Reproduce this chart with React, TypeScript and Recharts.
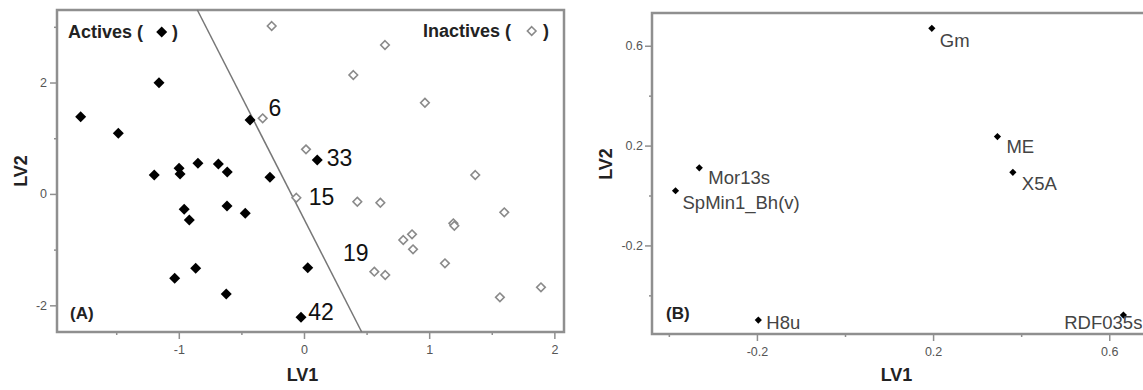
import React from 'react';
import { ScatterChart, Scatter, XAxis, YAxis, ReferenceLine, ReferenceArea } from 'recharts';

const FONT = "Arial, 'Liberation Sans', sans-serif";

// ---------- Panel (A): PLS scores ----------
const activeLV1 = [-1.788, -1.487, -1.162, -0.435, -1.2, -1.002, -0.994, -0.851, -0.688, -0.617, -0.276, -0.961, -0.92, -0.619, -0.473, -0.869, -1.037, -0.625, 0.026, -0.028, 0.102];
const activeLV2 = [1.395, 1.097, 2.006, 1.336, 0.348, 0.469, 0.366, 0.558, 0.546, 0.402, 0.307, -0.268, -0.46, -0.208, -0.34, -1.327, -1.507, -1.788, -1.316, -2.207, 0.618];
const inactiveLV1 = [-0.262, -0.334, -0.065, 0.643, 0.39, 0.962, 0.012, 1.364, 0.422, 0.606, 1.596, 1.189, 1.197, 0.859, 0.789, 0.867, 1.122, 0.558, 0.645, 1.889, 1.561];
const inactiveLV2 = [3.023, 1.366, -0.06, 2.682, 2.144, 1.646, 0.809, 0.348, -0.131, -0.149, -0.322, -0.519, -0.562, -0.717, -0.819, -0.986, -1.237, -1.387, -1.447, -1.668, -1.848];
const compoundLabels = ['6', '33', '15', '19', '42'];
const compoundLabelLV1 = [-0.236, 0.28, 0.136, 0.41, 0.132];
const compoundLabelLV2 = [1.551, 0.653, -0.041, -1.047, -2.106];
const boundaryLV1 = [-0.856, 0.457];
const boundaryLV2 = [3.311, -2.47];
const aXDomain = [-1.977, 2.073];
const aYDomain = [-2.47, 3.311];
const aXTicks = [-1.5, -1, -0.5, 0, 0.5, 1, 1.5, 2];
const aXLabeled = [-1, 0, 1, 2];
const aYTicks = [-2, -1, 0, 1, 2, 3];
const aYLabeled = [-2, 0, 2];

// ---------- Panel (B): loadings ----------
const descriptors = ['Gm', 'ME', 'X5A', 'Mor13s', 'SpMin1_Bh(v)', 'H8u', 'RDF035s'];
const loadingLV1 = [0.196, 0.345, 0.38, -0.332, -0.386, -0.198, 0.631];
const loadingLV2 = [0.672, 0.238, 0.095, 0.113, 0.021, -0.497, -0.477];
const bXDomain = [-0.4394, 0.6846];
const bYDomain = [-0.5529, 0.7332];
const bTicks = [-0.4, -0.2, 0, 0.2, 0.4, 0.6];
const bLabeled = [-0.2, 0.2, 0.6];

// label placement (style, not data)
const LABEL_OFFSETS: Record<string, { dx: number; dy: number; anchor: string }> = {
  Gm: { dx: 8, dy: 12, anchor: 'start' },
  ME: { dx: 9, dy: 10, anchor: 'start' },
  X5A: { dx: 9, dy: 11, anchor: 'start' },
  Mor13s: { dx: 9, dy: 10, anchor: 'start' },
  'SpMin1_Bh(v)': { dx: 7, dy: 12, anchor: 'start' },
  H8u: { dx: 8, dy: 2, anchor: 'start' },
  RDF035s: { dx: 19, dy: 7, anchor: 'end' },
};

const activeData = activeLV1.map((x, i) => ({ x, y: activeLV2[i] }));
const inactiveData = inactiveLV1.map((x, i) => ({ x, y: inactiveLV2[i] }));
const numberData = compoundLabels.map((t, i) => ({ x: compoundLabelLV1[i], y: compoundLabelLV2[i], t }));
const loadingData = descriptors.map((name, i) => ({ x: loadingLV1[i], y: loadingLV2[i], name }));

const FRAME = '#8f8f8f';
const TICK_COLOR = '#555';

const isIn = (arr: number[], v: number) => arr.some((a) => Math.abs(a - v) < 1e-9);

const makeXTick = (labeled: number[]) => (props: any) => {
  const { x, y, payload } = props;
  const major = isIn(labeled, payload.value);
  return (
    <g>
      <line x1={x} y1={y} x2={x} y2={y + (major ? 7 : 3)} stroke={FRAME} strokeWidth={1.5} />
      {major && (
        <text x={x} y={y + 18} textAnchor="middle" dominantBaseline="central" fontSize={12.5} fill={TICK_COLOR} fontFamily={FONT}>
          {String(payload.value)}
        </text>
      )}
    </g>
  );
};

const makeYTick = (labeled: number[], gap: number) => (props: any) => {
  const { x, y, payload } = props;
  const major = isIn(labeled, payload.value);
  return (
    <g>
      <line x1={x - (major ? 7 : 3)} y1={y} x2={x} y2={y} stroke={FRAME} strokeWidth={1.5} />
      {major && (
        <text x={x - gap} y={y} textAnchor="end" dominantBaseline="central" fontSize={12.5} fill={TICK_COLOR} fontFamily={FONT}>
          {String(payload.value)}
        </text>
      )}
    </g>
  );
};

const diamond = (cx: number, cy: number, hw: number, hh: number) =>
  `${cx},${cy - hh} ${cx + hw},${cy} ${cx},${cy + hh} ${cx - hw},${cy}`;

const ActiveShape = (p: any) => <polygon points={diamond(p.cx, p.cy, 5.5, 5.5)} fill="#000" />;
const InactiveShape = (p: any) => (
  <polygon points={diamond(p.cx, p.cy, 4.3, 4.3)} fill="#fff" stroke="#8a8a8a" strokeWidth={1.6} />
);
const NumberShape = (p: any) => (
  <text x={p.cx} y={p.cy} textAnchor="middle" dominantBaseline="central" fontSize={23} fill="#111" fontFamily={FONT}>
    {p.payload.t}
  </text>
);
const LoadingShape = (p: any) => {
  const o = LABEL_OFFSETS[p.payload.name] || { dx: 8, dy: 10, anchor: 'start' };
  return (
    <g>
      <polygon points={diamond(p.cx, p.cy, 3.6, 3.6)} fill="#000" />
      <text x={p.cx + o.dx} y={p.cy + o.dy} textAnchor={o.anchor as any} dominantBaseline="central" fontSize={18.5} fill="#444" fontFamily={FONT}>
        {p.payload.name}
      </text>
    </g>
  );
};

function PanelA() {
  return (
    <ScatterChart width={600} height={390} margin={{ top: 10, right: 36, bottom: 0, left: 0 }}>
      <XAxis
        type="number"
        dataKey="x"
        domain={aXDomain}
        allowDataOverflow
        ticks={aXTicks}
        interval={0}
        axisLine={false}
        tickLine={false}
        tickSize={0}
        tickMargin={0}
        height={58}
        tick={makeXTick(aXLabeled)}
      />
      <YAxis
        type="number"
        dataKey="y"
        domain={aYDomain}
        allowDataOverflow
        ticks={aYTicks}
        interval={0}
        axisLine={false}
        tickLine={false}
        tickSize={0}
        tickMargin={0}
        width={57}
        tick={makeYTick(aYLabeled, 10)}
      />
      <ReferenceArea
        x1={aXDomain[0]}
        x2={aXDomain[1]}
        y1={aYDomain[0]}
        y2={aYDomain[1]}
        fill="none"
        fillOpacity={0}
        stroke={FRAME}
        strokeWidth={2.5}
        ifOverflow="visible"
      />
      <ReferenceLine
        segment={[
          { x: boundaryLV1[0], y: boundaryLV2[0] },
          { x: boundaryLV1[1], y: boundaryLV2[1] },
        ]}
        stroke="#777"
        strokeWidth={1.5}
        ifOverflow="visible"
      />
      <Scatter data={inactiveData} shape={InactiveShape} isAnimationActive={false} />
      <Scatter data={activeData} shape={ActiveShape} isAnimationActive={false} />
      <Scatter data={numberData} shape={NumberShape} isAnimationActive={false} />
    </ScatterChart>
  );
}

function PanelB() {
  return (
    <ScatterChart width={560} height={390} margin={{ top: 13, right: 3, bottom: 0, left: 0 }}>
      <XAxis
        type="number"
        dataKey="x"
        domain={bXDomain}
        allowDataOverflow
        ticks={bTicks}
        interval={0}
        axisLine={false}
        tickLine={false}
        tickSize={0}
        tickMargin={0}
        height={56}
        tick={makeXTick(bLabeled)}
      />
      <YAxis
        type="number"
        dataKey="y"
        domain={bYDomain}
        allowDataOverflow
        ticks={bTicks}
        interval={0}
        axisLine={false}
        tickLine={false}
        tickSize={0}
        tickMargin={0}
        width={62}
        tick={makeYTick(bLabeled, 9)}
      />
      <ReferenceArea
        x1={bXDomain[0]}
        x2={bXDomain[1]}
        y1={bYDomain[0]}
        y2={bYDomain[1]}
        fill="none"
        fillOpacity={0}
        stroke={FRAME}
        strokeWidth={2.5}
        ifOverflow="visible"
      />
      <Scatter data={loadingData} shape={LoadingShape} isAnimationActive={false} />
    </ScatterChart>
  );
}

export default function App() {
  const bold = { fontFamily: FONT, fontWeight: 700 as const };
  return (
    <div style={{ position: 'absolute', left: 0, top: 0, width: 1143, height: 390, overflow: 'hidden', background: '#fff' }}>
      <div style={{ position: 'absolute', left: 0, top: 0 }}>
        <PanelA />
      </div>
      <div style={{ position: 'absolute', left: 590, top: 0 }}>
        <PanelB />
      </div>
      <svg width={1143} height={390} style={{ position: 'absolute', left: 0, top: 0, pointerEvents: 'none' }}>
        {/* Panel A annotations */}
        <text x={68} y={32} dominantBaseline="central" fontSize={18} fill="#222" {...bold}>Actives (</text>
        <polygon points={diamond(161.7, 32, 5.5, 5.5)} fill="#000" />
        <text x={172} y={32} dominantBaseline="central" fontSize={18} fill="#222" {...bold}>)</text>
        <text x={423} y={31} dominantBaseline="central" fontSize={18} fill="#222" {...bold}>Inactives (</text>
        <polygon points={diamond(531.7, 31, 4.3, 4.3)} fill="#fff" stroke="#8a8a8a" strokeWidth={1.6} />
        <text x={543} y={31} dominantBaseline="central" fontSize={18} fill="#222" {...bold}>)</text>
        <text x={70} y={313} dominantBaseline="central" fontSize={17} fill="#222" {...bold}>(A)</text>
        <text x={302.5} y={375} textAnchor="middle" dominantBaseline="central" fontSize={18} fill="#222" {...bold}>LV1</text>
        <text x={21} y={171} textAnchor="middle" dominantBaseline="central" fontSize={18} fill="#222" transform="rotate(-90 21 171)" {...bold}>LV2</text>
        {/* Panel B annotations */}
        <text x={666} y={313} dominantBaseline="central" fontSize={17} fill="#222" {...bold}>(B)</text>
        <text x={896.5} y={375} textAnchor="middle" dominantBaseline="central" fontSize={18} fill="#222" {...bold}>LV1</text>
        <text x={605.5} y={164} textAnchor="middle" dominantBaseline="central" fontSize={18} fill="#222" transform="rotate(-90 605.5 164)" {...bold}>LV2</text>
      </svg>
    </div>
  );
}
